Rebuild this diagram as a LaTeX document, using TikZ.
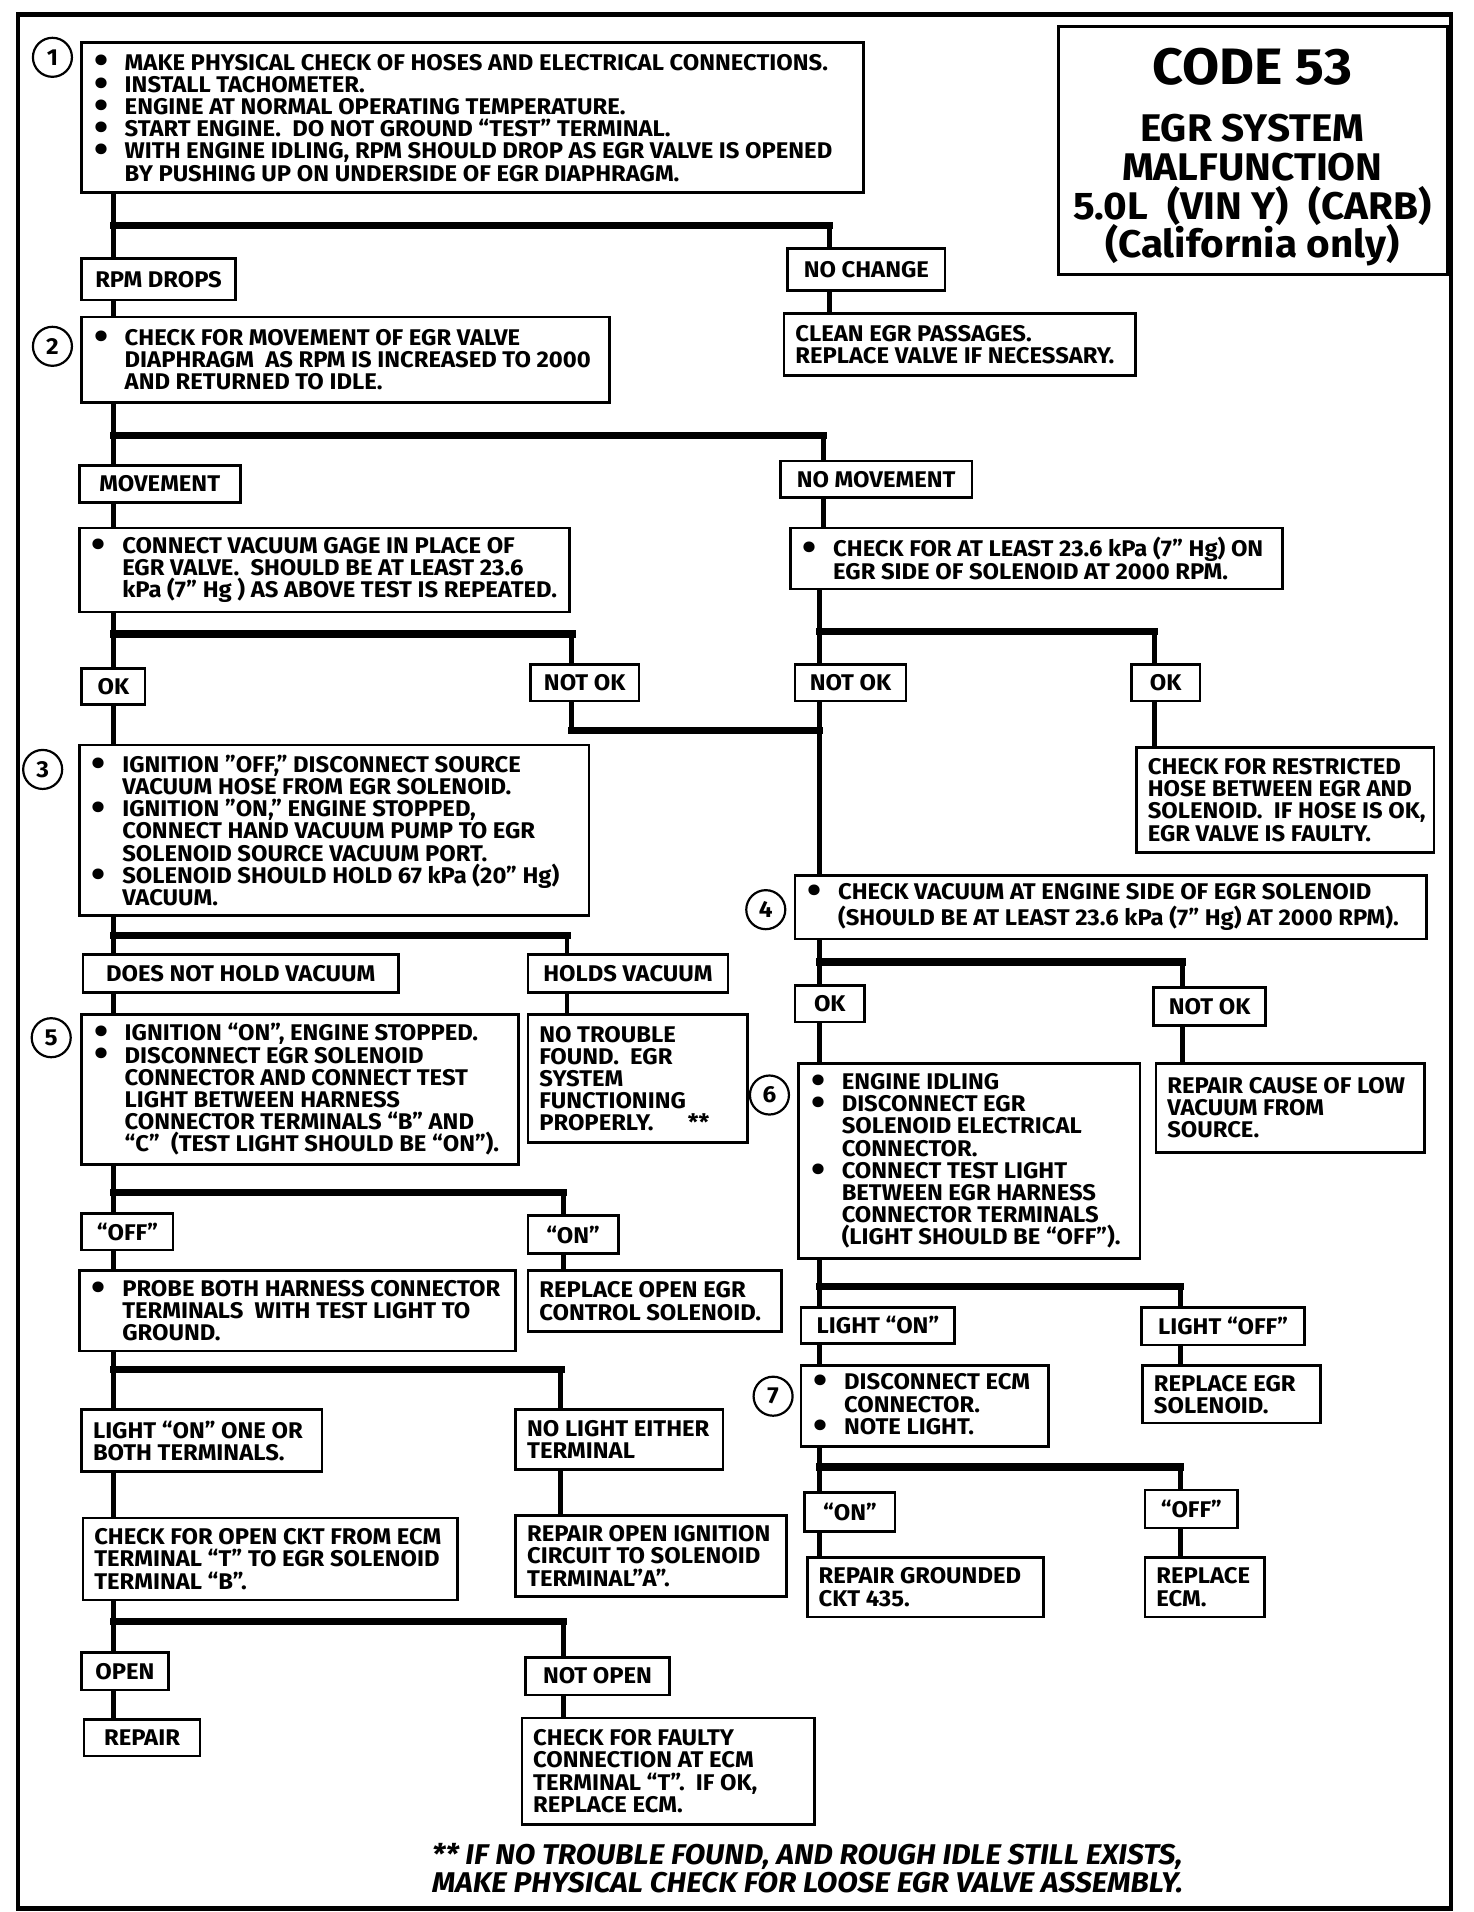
\documentclass[tikz,border=0pt]{standalone}
\usepackage{fontspec}
\setmainfont{Fira Sans}[FakeStretch=1.05]
\usetikzlibrary{fit}
\newcommand\bul{\makebox[13pt][l]{\hspace{0.5pt}\raisebox{-0.17em}{\scalebox{1.7}{•}}}}
\newcommand\ind{\makebox[13pt]{}}
\newcommand\bx[6]{%
  \path (#2,#3) coordinate (#1-nw) (#4,#5) coordinate (#1-se);
  \node[box, fit=(#1-nw)(#1-se)] (#1) {};
  \node[txt, anchor=west] (#1-t) at ([xshift=5pt]#1.west) {#6};}
\newcommand\lb[6]{%
  \path (#2,#3) coordinate (#1-nw) (#4,#5) coordinate (#1-se);
  \node[box, fit=(#1-nw)(#1-se)] (#1) {};
  \node[txt] (#1-t) at (#1.center) {#6};}
\begin{document}
\begin{tikzpicture}[x=0.5pt,y=-0.5pt,
  box/.style={draw, line width=1.1pt, inner sep=0pt},
  txt/.style={font=\bfseries\fontsize{9.3}{9.1}\selectfont, align=left, inner sep=0pt},
  vl/.style={line width=2pt},
  hl/.style={line width=3pt, line cap=rect},
  num/.style={draw, circle, line width=0.9pt, minimum size=16pt, inner sep=0pt, font=\bfseries\fontsize{9.5}{9.5}\selectfont},
  ttl/.style={font=\bfseries\fontsize{15.8}{15.8}\selectfont, inner sep=0pt}]
\useasboundingbox (0,0) rectangle (1208,1568);
\path (15,12) coordinate (o-nw) (1190,1565) coordinate (o-se);
\node[draw, line width=1.8pt, inner sep=0pt, fit=(o-nw)(o-se)] (outer) {};

% title
\path (868,22) coordinate (title-nw) (1187,225) coordinate (title-se);
\node[box, fit=(title-nw)(title-se)] (title) {};
\node[ttl, font=\bfseries\fontsize{21}{21}\selectfont] (t1) at (1027,55) {CODE 53};
\node[ttl] (t2) at (1027,105) {EGR SYSTEM};
\node[ttl] (t3) at (1027,137) {MALFUNCTION};
\node[ttl] (t4) at (1027,169) {5.0L\ \ (VIN Y)\ \ (CARB)};
\node[ttl] (t5) at (1027,201) {(California only)};

% boxes
\bx{b1}{67}{35}{708}{158}{\bul MAKE PHYSICAL CHECK OF HOSES AND ELECTRICAL CONNECTIONS.\\\bul INSTALL TACHOMETER.\\\bul ENGINE AT NORMAL OPERATING TEMPERATURE.\\\bul START ENGINE.\ \ DO NOT GROUND “TEST” TERMINAL.\\\bul WITH ENGINE IDLING, RPM SHOULD DROP AS EGR VALVE IS OPENED\\\ind BY PUSHING UP ON UNDERSIDE OF EGR DIAPHRAGM.}
\lb{rpm}{67}{212}{193}{246}{RPM DROPS}
\lb{nochg}{646}{204}{775}{238}{NO CHANGE}
\bx{clean}{643}{257}{931}{308}{CLEAN EGR PASSAGES.\\REPLACE VALVE IF NECESSARY.}
\bx{b2}{67}{260}{500}{330}{\bul CHECK FOR MOVEMENT OF EGR VALVE\\\ind DIAPHRAGM\ \ AS RPM IS INCREASED TO 2000\\\ind AND RETURNED TO IDLE.}
\lb{mov}{65}{382}{197}{412}{MOVEMENT}
\lb{nomov}{640}{378}{797}{408}{NO MOVEMENT}
\bx{cv}{65}{433}{467}{502}{\bul CONNECT VACUUM GAGE IN PLACE OF\\\ind EGR VALVE.\ \ SHOULD BE AT LEAST 23.6\\\ind kPa (7” Hg ) AS ABOVE TEST IS REPEATED.}
\bx{c23}{648}{433}{1052}{483}{\bul CHECK FOR AT LEAST 23.6 kPa (7” Hg) ON\\\ind EGR SIDE OF SOLENOID AT 2000 RPM.}
\lb{ok1}{67}{548}{119}{578}{OK}
\lb{nok1}{435}{545}{524}{575}{NOT OK}
\lb{nok2}{652}{545}{743}{575}{NOT OK}
\lb{ok2}{928}{545}{984}{575}{OK}
\bx{restr}{932}{613}{1176}{699}{CHECK FOR RESTRICTED\\HOSE BETWEEN EGR AND\\SOLENOID.\ \ IF HOSE IS OK,\\EGR VALVE IS FAULTY.}
\bx{b3}{65}{611}{483}{751}{\bul IGNITION ”OFF,” DISCONNECT SOURCE\\\ind VACUUM HOSE FROM EGR SOLENOID.\\\bul IGNITION ”ON,” ENGINE STOPPED,\\\ind CONNECT HAND VACUUM PUMP TO EGR\\\ind SOLENOID SOURCE VACUUM PORT.\\\bul SOLENOID SHOULD HOLD 67 kPa (20” Hg)\\\ind VACUUM.}
\bx{b4}{652}{718}{1170}{770}{\bul CHECK VACUUM AT ENGINE SIDE OF EGR SOLENOID\\\ind (SHOULD BE AT LEAST 23.6 kPa (7” Hg) AT 2000 RPM).}
\lb{dnh}{68}{783}{327}{814}{DOES NOT HOLD VACUUM}
\lb{holds}{433}{783}{597}{814}{HOLDS VACUUM}
\bx{notr}{433}{832}{613}{937}{NO TROUBLE\\FOUND.\ \ EGR\\SYSTEM\\FUNCTIONING\\PROPERLY.\hspace{14pt}**}
\bx{b5}{67}{832}{425}{955}{\bul IGNITION “ON”, ENGINE STOPPED.\\\bul DISCONNECT EGR SOLENOID\\\ind CONNECTOR AND CONNECT TEST\\\ind LIGHT BETWEEN HARNESS\\\ind CONNECTOR TERMINALS “B” AND\\\ind “C”\ \ (TEST LIGHT SHOULD BE “ON”).}
\lb{ok3}{652}{808}{709}{838}{OK}
\lb{nok3}{946}{810}{1038}{841}{NOT OK}
\bx{repc}{948}{872}{1168}{945}{REPAIR CAUSE OF LOW\\VACUUM FROM\\SOURCE.}
\bx{b6}{655}{872}{935}{1032}{\bul ENGINE IDLING\\\bul DISCONNECT EGR\\\ind SOLENOID ELECTRICAL\\\ind CONNECTOR.\\\bul CONNECT TEST LIGHT\\\ind BETWEEN EGR HARNESS\\\ind CONNECTOR TERMINALS\\\ind (LIGHT SHOULD BE “OFF”).}
\lb{off1}{67}{995}{142}{1025}{“OFF”}
\lb{on1}{433}{997}{507}{1028}{“ON”}
\bx{repopen}{433}{1042}{641}{1092}{REPLACE OPEN EGR\\CONTROL SOLENOID.}
\bx{probe}{65}{1042}{423}{1108}{\bul PROBE BOTH HARNESS CONNECTOR\\\ind TERMINALS\ \ WITH TEST LIGHT TO\\\ind GROUND.}
\lb{lon}{657}{1072}{783}{1102}{LIGHT “ON”}
\lb{loff}{936}{1072}{1070}{1103}{LIGHT “OFF”}
\bx{repegr}{937}{1120}{1083}{1167}{REPLACE EGR\\SOLENOID.}
\bx{b7}{657}{1120}{860}{1186}{\bul DISCONNECT ECM\\\ind CONNECTOR.\\\bul NOTE LIGHT.}
\lb{on2}{660}{1224}{734}{1256}{“ON”}
\lb{off2}{939}{1222}{1015}{1253}{“OFF”}
\bx{rgnd}{662}{1277}{856}{1326}{REPAIR GROUNDED\\CKT 435.}
\bx{recm}{939}{1277}{1037}{1326}{REPLACE\\ECM.}
\bx{lone}{67}{1156}{264}{1207}{LIGHT “ON” ONE OR\\BOTH TERMINALS.}
\bx{nol}{423}{1156}{593}{1205}{NO LIGHT EITHER\\TERMINAL}
\bx{repign}{423}{1243}{645}{1309}{REPAIR OPEN IGNITION\\CIRCUIT TO SOLENOID\\TERMINAL”A”.}
\bx{cko}{68}{1245}{375}{1312}{CHECK FOR OPEN CKT FROM ECM\\TERMINAL “T” TO EGR SOLENOID\\TERMINAL “B”.}
\lb{open}{67}{1355}{138}{1386}{OPEN}
\lb{nopen}{431}{1359}{549}{1390}{NOT OPEN}
\lb{repair}{69}{1410}{164}{1440}{REPAIR}
\bx{cfault}{428}{1409}{668}{1496}{CHECK FOR FAULTY\\CONNECTION AT ECM\\TERMINAL “T”.\ \ IF OK,\\REPLACE ECM.}

% step numbers
\node[num] (n1) at (43,47) {1};
\node[num] (n2) at (43,284) {2};
\node[num] (n3) at (35,631) {3};
\node[num] (n4) at (628,746) {4};
\node[num] (n5) at (42,851) {5};
\node[num] (n6) at (631,898) {6};
\node[num] (n7) at (634,1145) {7};

% trunk coordinates and junctions
\coordinate (L) at (93,0);
\coordinate (R) at (672,0);
\coordinate (j1) at (93,185);   \coordinate (j1b) at (680,185);
\coordinate (j2) at (93,357);   \coordinate (j2b) at (675,357);
\coordinate (j3) at (93,520);   \coordinate (j3b) at (469,520);
\coordinate (j4) at (672,518);  \coordinate (j4b) at (947,518);
\coordinate (j5) at (469,599);  \coordinate (j5b) at (672,599);
\coordinate (j6) at (93,767);   \coordinate (j6b) at (465,767);
\coordinate (j7) at (672,789);  \coordinate (j7b) at (970,789);
\coordinate (j8) at (93,978);   \coordinate (j8b) at (462,978);
\coordinate (j9) at (672,1055); \coordinate (j9b) at (968,1055);
\coordinate (j10) at (672,1203);\coordinate (j10b) at (968,1203);
\coordinate (j11) at (93,1123); \coordinate (j11b) at (460,1123);
\coordinate (j12) at (93,1330); \coordinate (j12b) at (462,1330);

% connectors
\draw[vl] (b1.south -| L) -- (rpm.north -| L);
\draw[hl] (j1) -- (j1b);
\draw[vl] (j1b) -- (nochg.north -| j1b);
\draw[vl] (nochg.south -| j1b) -- (clean.north -| j1b);
\draw[vl] (rpm.south -| L) -- (b2.north -| L);

\draw[vl] (b2.south -| L) -- (mov.north -| L);
\draw[hl] (j2) -- (j2b);
\draw[vl] (j2b) -- (nomov.north -| j2b);
\draw[vl] (mov.south -| L) -- (cv.north -| L);
\draw[vl] (nomov.south -| j2b) -- (c23.north -| j2b);

\draw[vl] (cv.south -| L) -- (ok1.north -| L);
\draw[hl] (j3) -- (j3b);
\draw[vl] (j3b) -- (nok1.north -| j3b);
\draw[vl] (ok1.south -| L) -- (b3.north -| L);

\draw[vl] (c23.south -| R) -- (nok2.north -| R);
\draw[hl] (j4) -- (j4b);
\draw[vl] (j4b) -- (ok2.north -| j4b);
\draw[vl] (ok2.south -| j4b) -- (restr.north -| j4b);

\draw[vl] (nok1.south -| j5) -- (j5);
\draw[hl] (j5) -- (j5b);
\draw[vl] (nok2.south -| R) -- (b4.north -| R);

\draw[vl] (b3.south -| L) -- (dnh.north -| L);
\draw[hl] (j6) -- (j6b);
\draw[vl] (j6b) -- (holds.north -| j6b);
\draw[vl] (holds.south -| j6b) -- (notr.north -| j6b);
\draw[vl] (dnh.south -| L) -- (b5.north -| L);

\draw[vl] (b4.south -| R) -- (ok3.north -| R);
\draw[hl] (j7) -- (j7b);
\draw[vl] (j7b) -- (nok3.north -| j7b);
\draw[vl] (nok3.south -| j7b) -- (repc.north -| j7b);
\draw[vl] (ok3.south -| R) -- (b6.north -| R);

\draw[vl] (b5.south -| L) -- (off1.north -| L);
\draw[hl] (j8) -- (j8b);
\draw[vl] (j8b) -- (on1.north -| j8b);
\draw[vl] (on1.south -| j8b) -- (repopen.north -| j8b);
\draw[vl] (off1.south -| L) -- (probe.north -| L);

\draw[vl] (b6.south -| R) -- (lon.north -| R);
\draw[hl] (j9) -- (j9b);
\draw[vl] (j9b) -- (loff.north -| j9b);
\draw[vl] (loff.south -| j9b) -- (repegr.north -| j9b);
\draw[vl] (lon.south -| R) -- (b7.north -| R);

\draw[vl] (b7.south -| R) -- (on2.north -| R);
\draw[hl] (j10) -- (j10b);
\draw[vl] (j10b) -- (off2.north -| j10b);
\draw[vl] (off2.south -| j10b) -- (recm.north -| j10b);
\draw[vl] (on2.south -| R) -- (rgnd.north -| R);

\draw[vl] (probe.south -| L) -- (lone.north -| L);
\draw[hl] (j11) -- (j11b);
\draw[vl] (j11b) -- (nol.north -| j11b);
\draw[vl] (nol.south -| j11b) -- (repign.north -| j11b);
\draw[vl] (lone.south -| L) -- (cko.north -| L);

\draw[vl] (cko.south -| L) -- (open.north -| L);
\draw[hl] (j12) -- (j12b);
\draw[vl] (j12b) -- (nopen.north -| j12b);
\draw[vl] (nopen.south -| j12b) -- (cfault.north -| j12b);
\draw[vl] (open.south -| L) -- (repair.north -| L);

% footnote
\node[txt, anchor=west, font=\bfseries\itshape\fontsize{11.7}{11.5}\selectfont] (foot) at (354,1532) {** IF NO TROUBLE FOUND, AND ROUGH IDLE STILL EXISTS,\\MAKE PHYSICAL CHECK FOR LOOSE EGR VALVE ASSEMBLY.};
\end{tikzpicture}
\end{document}
